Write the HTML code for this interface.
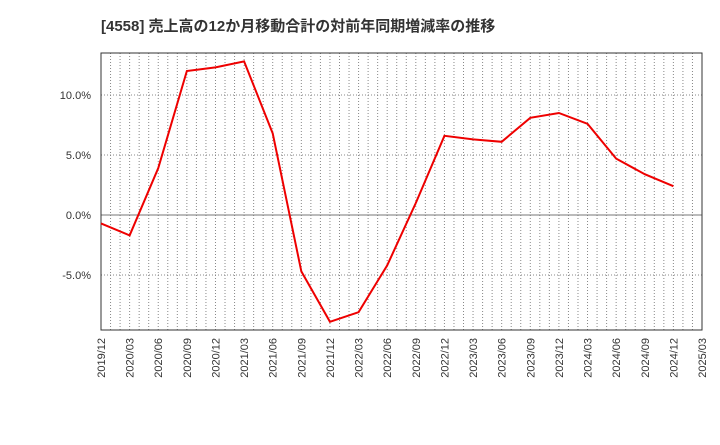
<!DOCTYPE html>
<html><head><meta charset="utf-8"><style>
body{margin:0;background:#fff;font-family:"Liberation Sans","Noto Sans CJK JP",sans-serif}
</style></head><body>
<svg id="c" width="720" height="440" xmlns="http://www.w3.org/2000/svg">
<text x="101" y="31" font-size="15" font-weight="bold" fill="#333">[4558]  売上高の12か月移動合計の対前年同期増減率の推移</text>
</svg>
<script>
const categories=["2019/12","2020/03","2020/06","2020/09","2020/12","2021/03","2021/06","2021/09","2021/12","2022/03","2022/06","2022/09","2022/12","2023/03","2023/06","2023/09","2023/12","2024/03","2024/06","2024/09","2024/12"];
const values=[-0.7,-1.7,3.9,12.0,12.3,12.8,6.8,-4.7,-8.9,-8.1,-4.2,1.0,6.6,6.3,6.1,8.1,8.5,7.6,4.7,3.4,2.4];
const xTicks=["2019/12","2020/03","2020/06","2020/09","2020/12","2021/03","2021/06","2021/09","2021/12","2022/03","2022/06","2022/09","2022/12","2023/03","2023/06","2023/09","2023/12","2024/03","2024/06","2024/09","2024/12","2025/03"];
const yTicks=[-5,0,5,10];
const yLabels=["-5.0%","0.0%","5.0%","10.0%"];
const NS="http://www.w3.org/2000/svg",svg=document.getElementById('c');
const L=101,R=702,T=53,B=330,n=xTicks.length-1;
const x=i=>L+(R-L)*i/n;
const y=v=>215-12*v;
function mk(t,a){const e=document.createElementNS(NS,t);for(const k in a)e.setAttribute(k,a[k]);svg.appendChild(e);return e;}
for(let m=1;m<n*3;m++){const e=mk('line',{x1:x(m/3),x2:x(m/3),y1:T,y2:B,stroke:'#888','stroke-dasharray':'1,2','stroke-width':1});
}
yTicks.forEach((v,i)=>{const g=mk('line',{x1:L,x2:R,y1:y(v),y2:y(v),stroke:v===0?'#777':'#888','stroke-dasharray':v===0?'none':'1,2','stroke-width':1});

const t=mk('text',{x:L-10,y:y(v)+4,'text-anchor':'end','font-size':11,fill:'#333'});t.textContent=yLabels[i];
});
const f=mk('rect',{x:L,y:T,width:R-L,height:B-T,fill:'none',stroke:'#333'});

xTicks.forEach((s,i)=>{const t=mk('text',{x:0,y:0,'font-size':11,fill:'#333','text-anchor':'end',transform:`translate(${x(i)+4},${B+8}) rotate(-90)`});t.textContent=s;
});
const p=mk('polyline',{points:values.map((v,i)=>x(i)+','+y(v)).join(' '),fill:'none',stroke:'#e00',"stroke-width":2});

</script>
</body></html>
